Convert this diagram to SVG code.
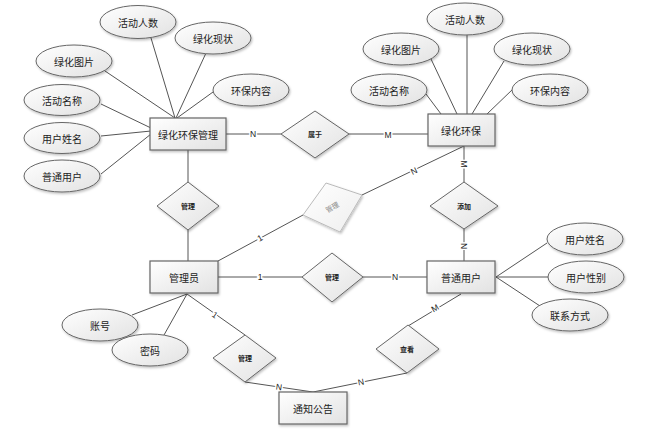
<svg xmlns="http://www.w3.org/2000/svg" width="652" height="430" viewBox="0 0 652 430">
<defs>
<linearGradient id="g" x1="0" y1="0" x2="1" y2="1">
<stop offset="0" stop-color="#ffffff"/>
<stop offset="1" stop-color="#e2e2e2"/>
</linearGradient>
<linearGradient id="gl" x1="0" y1="0" x2="1" y2="1">
<stop offset="0" stop-color="#ffffff"/>
<stop offset="1" stop-color="#eeeeee"/>
</linearGradient>
<filter id="sh" x="-20%" y="-20%" width="140%" height="150%">
<feDropShadow dx="1" dy="1.5" stdDeviation="0.8" flood-color="#000" flood-opacity="0.25"/>
</filter>
</defs>
<style>
.ent{fill:url(#g);stroke:#666;stroke-width:1.2;filter:url(#sh)}
.att{fill:url(#g);stroke:#666;stroke-width:1;filter:url(#sh)}
.rel{fill:url(#g);stroke:#666;stroke-width:1;filter:url(#sh)}
.ln{stroke:#555;stroke-width:1;fill:none}
text{font-family:"Noto Sans CJK SC","Liberation Sans",sans-serif;text-anchor:middle;dominant-baseline:central;fill:#222}
.te{font-size:10px}
.ta{font-size:10px}
.tr{font-size:7px;font-weight:bold}
.lb{font-family:"Liberation Sans",sans-serif;font-size:8.5px;stroke:#fff;stroke-width:3;paint-order:stroke}
</style>
<rect width="652" height="430" fill="#fff"/>
<g id="connectors">
<line class="ln" x1="226" y1="134" x2="281" y2="134"/>
<line class="ln" x1="349" y1="134" x2="428" y2="134"/>
<line class="ln" x1="188" y1="150" x2="188" y2="182"/>
<line class="ln" x1="188" y1="230" x2="188" y2="261"/>
<line class="ln" x1="218" y1="277" x2="302" y2="277"/>
<line class="ln" x1="363" y1="277" x2="427" y2="277"/>
<line class="ln" x1="464" y1="146" x2="464" y2="182"/>
<line class="ln" x1="464" y1="229" x2="464" y2="261"/>
<line class="ln" x1="218" y1="261" x2="303" y2="215"/>
<line class="ln" x1="362" y1="195" x2="464" y2="146"/>
<line class="ln" x1="187" y1="294" x2="132" y2="315"/>
<line class="ln" x1="187" y1="294" x2="164" y2="335"/>
<line class="ln" x1="187" y1="294" x2="245" y2="335"/>
<line class="ln" x1="245" y1="382" x2="313" y2="392"/>
<line class="ln" x1="407" y1="373" x2="313" y2="392"/>
<line class="ln" x1="461" y1="294" x2="408" y2="326"/>
<line class="ln" x1="496" y1="277" x2="547" y2="243"/>
<line class="ln" x1="496" y1="277" x2="549" y2="277"/>
<line class="ln" x1="496" y1="277" x2="540" y2="306"/>
<line class="ln" x1="151" y1="38" x2="175" y2="118"/>
<line class="ln" x1="206" y1="53" x2="176" y2="118"/>
<line class="ln" x1="105" y1="71" x2="175" y2="118"/>
<line class="ln" x1="213" y1="92" x2="177" y2="118"/>
<line class="ln" x1="101" y1="104" x2="151" y2="128"/>
<line class="ln" x1="101" y1="136" x2="151" y2="131"/>
<line class="ln" x1="101" y1="174" x2="151" y2="134"/>
<line class="ln" x1="467" y1="34" x2="467" y2="114"/>
<line class="ln" x1="431" y1="59" x2="457" y2="114"/>
<line class="ln" x1="504" y1="61" x2="472" y2="114"/>
<line class="ln" x1="426" y1="94" x2="441" y2="114"/>
<line class="ln" x1="513" y1="89" x2="487" y2="114"/>
<text class="lb" x="253" y="134">N</text>
<text class="lb" x="388" y="135">M</text>
<text class="lb" x="260" y="277">1</text>
<text class="lb" x="395" y="277">N</text>
<text class="lb" transform="translate(464,164) rotate(90)">M</text>
<text class="lb" transform="translate(464,246) rotate(90)">N</text>
<text class="lb" transform="translate(260,238) rotate(-28)">1</text>
<text class="lb" transform="translate(414,171) rotate(-26)">N</text>
<text class="lb" transform="translate(215,315) rotate(35)">1</text>
<text class="lb" transform="translate(279,387) rotate(8)">N</text>
<text class="lb" transform="translate(361,382) rotate(-11)">N</text>
<text class="lb" transform="translate(435,308) rotate(-31)">M</text>
</g>
<g id="e1"><rect class="ent" x="150" y="118" width="76" height="32"/><text class="te" x="188" y="134">绿化环保管理</text></g>
<g id="e2"><rect class="ent" x="428" y="114" width="67" height="32"/><text class="te" x="461" y="130">绿化环保</text></g>
<g id="e3"><rect class="ent" x="150" y="261" width="68" height="32"/><text class="te" x="184" y="277">管理员</text></g>
<g id="e4"><rect class="ent" x="427" y="261" width="68" height="32"/><text class="te" x="461" y="277">普通用户</text></g>
<g id="e5"><rect class="ent" x="279" y="392" width="68" height="32"/><text class="te" x="313" y="408">通知公告</text></g>
<g id="r1"><polygon class="rel" points="281,134 315,111 349,134 315,158"/><text class="tr" x="315" y="134">属于</text></g>
<g id="r2"><polygon class="rel" points="157,206 188,182 219,206 188,230"/><text class="tr" x="188" y="206">管理</text></g>
<g id="r3"><polygon class="rel" points="430,206 464,182 498,206 464,229"/><text class="tr" x="464" y="206">添加</text></g>
<g id="r4"><polygon class="rel" points="302,277 332,253 363,277 332,302"/><text class="tr" x="332" y="277">管理</text></g>
<g id="r5"><polygon class="rel" points="213,358 245,335 276,358 245,382"/><text class="tr" x="245" y="358">管理</text></g>
<g id="r6"><polygon class="rel" points="376,349 408,325 439,349 407,373"/><text class="tr" x="407" y="349">查看</text></g>
<g id="r7"><polygon points="326,183 362,195 340,232 303,215" fill="url(#gl)" stroke="#bbb" stroke-width="1" filter="url(#sh)"/><text class="tr" style="fill:#888;font-weight:normal" transform="translate(332,207) rotate(-30)">管理</text></g>
<g id="a1"><ellipse class="att" cx="138" cy="22" rx="38" ry="16.5"/><text class="ta" x="138" y="22">活动人数</text></g>
<g id="a2"><ellipse class="att" cx="213" cy="38" rx="38" ry="16"/><text class="ta" x="213" y="38">绿化现状</text></g>
<g id="a3"><ellipse class="att" cx="74" cy="61" rx="38" ry="16"/><text class="ta" x="74" y="61">绿化图片</text></g>
<g id="a4"><ellipse class="att" cx="251" cy="90" rx="38" ry="16"/><text class="ta" x="251" y="90">环保内容</text></g>
<g id="a5"><ellipse class="att" cx="62" cy="100" rx="38" ry="15.5"/><text class="ta" x="62" y="100">活动名称</text></g>
<g id="a6"><ellipse class="att" cx="62" cy="138" rx="38" ry="15.5"/><text class="ta" x="62" y="138">用户姓名</text></g>
<g id="a7"><ellipse class="att" cx="62" cy="176" rx="38" ry="16"/><text class="ta" x="62" y="176">普通用户</text></g>
<g id="a8"><ellipse class="att" cx="465" cy="19" rx="38" ry="16"/><text class="ta" x="465" y="19">活动人数</text></g>
<g id="a9"><ellipse class="att" cx="401" cy="49" rx="38" ry="16"/><text class="ta" x="401" y="49">绿化图片</text></g>
<g id="a10"><ellipse class="att" cx="532" cy="49" rx="38" ry="16"/><text class="ta" x="532" y="49">绿化现状</text></g>
<g id="a11"><ellipse class="att" cx="389" cy="90" rx="38" ry="16"/><text class="ta" x="389" y="90">活动名称</text></g>
<g id="a12"><ellipse class="att" cx="550" cy="90" rx="38" ry="16"/><text class="ta" x="550" y="90">环保内容</text></g>
<g id="a13"><ellipse class="att" cx="585" cy="239" rx="38" ry="16"/><text class="ta" x="585" y="239">用户姓名</text></g>
<g id="a14"><ellipse class="att" cx="586" cy="277" rx="38" ry="16"/><text class="ta" x="586" y="277">用户性别</text></g>
<g id="a15"><ellipse class="att" cx="570" cy="315" rx="38" ry="16"/><text class="ta" x="570" y="315">联系方式</text></g>
<g id="a16"><ellipse class="att" cx="100" cy="325" rx="38" ry="16"/><text class="ta" x="100" y="325">账号</text></g>
<g id="a17"><ellipse class="att" cx="150" cy="350" rx="38" ry="16"/><text class="ta" x="150" y="350">密码</text></g>
</svg>
